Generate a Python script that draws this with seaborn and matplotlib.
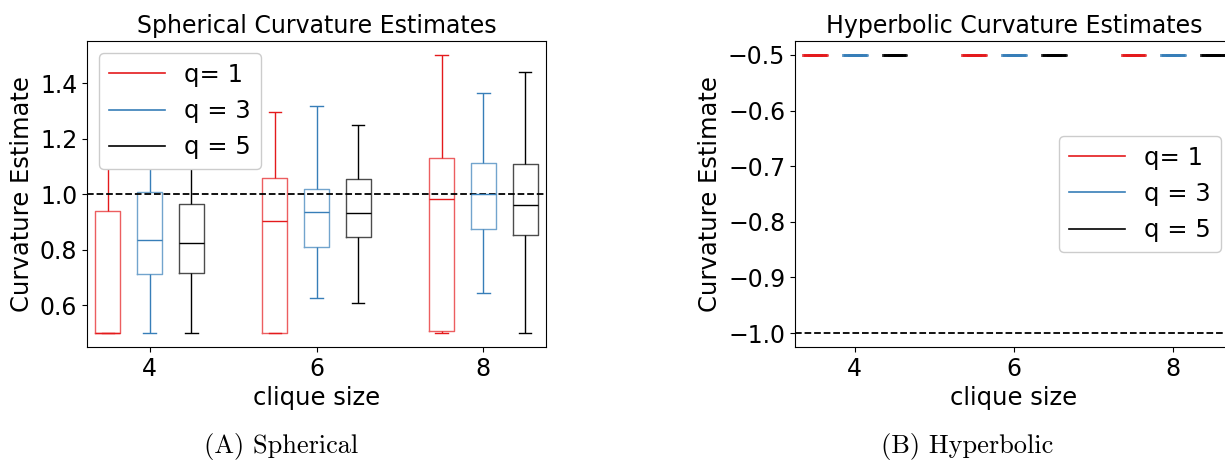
import numpy as np
import pandas as pd
import seaborn as sns
import matplotlib.pyplot as plt
from matplotlib.lines import Line2D

# x groups and legend labels
clique_sizes = [4, 6, 8]
q_labels = ['q= 1', 'q = 3', 'q = 5']
q_colors = ['#e41a1c', '#377eb8', '#000000']

# spherical estimates: five numbers per clique size (min, q1, median, q3, max)
sph_q1 = [[0.50, 0.50, 0.50, 0.942, 1.25],
          [0.50, 0.50, 0.904, 1.058, 1.297],
          [0.50, 0.506, 0.982, 1.131, 1.503]]
sph_q3 = [[0.50, 0.712, 0.834, 1.008, 1.30],
          [0.628, 0.811, 0.938, 1.019, 1.317],
          [0.644, 0.874, 1.00, 1.113, 1.366]]
sph_q5 = [[0.50, 0.715, 0.825, 0.964, 1.20],
          [0.608, 0.845, 0.932, 1.054, 1.252],
          [0.50, 0.855, 0.963, 1.108, 1.441]]

# hyperbolic estimates: every run gave -0.5
hyp_q1 = [[-0.5] * 5, [-0.5] * 5, [-0.5] * 5]
hyp_q3 = [[-0.5] * 5, [-0.5] * 5, [-0.5] * 5]
hyp_q5 = [[-0.5] * 5, [-0.5] * 5, [-0.5] * 5]

true_sph = 1.0
true_hyp = -1.0


def to_frame(series_list):
    rows = []
    for label, series in zip(q_labels, series_list):
        for size, vals in zip(clique_sizes, series):
            for v in vals:
                rows.append({'clique size': size, 'q': label, 'est': v})
    return pd.DataFrame(rows)


fs = 17.5
plt.rcParams['font.size'] = fs

fig = plt.figure(figsize=(12.25, 4.62), dpi=100)
ax1 = fig.add_axes([87 / 1225, 1 - 347 / 462, 459 / 1225, 306 / 462])
ax2 = fig.add_axes([795 / 1225, 1 - 347 / 462, 438 / 1225, 306 / 462])


def draw(ax, df, true_val, title, legend_loc, lw):
    sns.boxplot(data=df, x='clique size', y='est', hue='q', hue_order=q_labels,
                palette=dict(zip(q_labels, q_colors)), native_scale=True,
                width=0.75, gap=0.4, fill=False, whis=(0, 100), linewidth=lw,
                boxprops={'alpha': 0.7}, legend=False, ax=ax)
    ax.axhline(true_val, color='black', linestyle='--', linewidth=1.3)
    ax.set_xticks(clique_sizes)
    ax.set_xlim(3.25, 8.75)
    ax.set_xlabel('clique size', fontsize=fs)
    ax.set_ylabel('Curvature Estimate', fontsize=fs)
    ax.set_title(title, fontsize=17)
    ax.tick_params(labelsize=17)
    handles = [Line2D([0], [0], color=c, lw=1.2) for c in q_colors]
    ax.legend(handles, q_labels, loc=legend_loc, fontsize=fs,
              handlelength=2.3, framealpha=1)


draw(ax1, to_frame([sph_q1, sph_q3, sph_q5]), true_sph,
     'Spherical Curvature Estimates', 'upper left', 1.0)
ax1.set_ylim(0.45, 1.553)
ax1.set_yticks([0.6, 0.8, 1.0, 1.2, 1.4])

draw(ax2, to_frame([hyp_q1, hyp_q3, hyp_q5]), true_hyp,
     'Hyperbolic Curvature Estimates', 'center right', 2.0)
ax2.set_ylim(-1.025, -0.475)
ax2.set_yticks([-1.0, -0.9, -0.8, -0.7, -0.6, -0.5])

# subfigure captions
fig.text(281 / 1225, 1 - 447 / 462, '(A) Spherical', family='cmr10',
         fontsize=19, ha='center', va='center')
fig.text(967 / 1225, 1 - 447 / 462, '(B) Hyperbolic', family='cmr10',
         fontsize=19, ha='center', va='center')

fig.savefig('out.png', dpi=100)
